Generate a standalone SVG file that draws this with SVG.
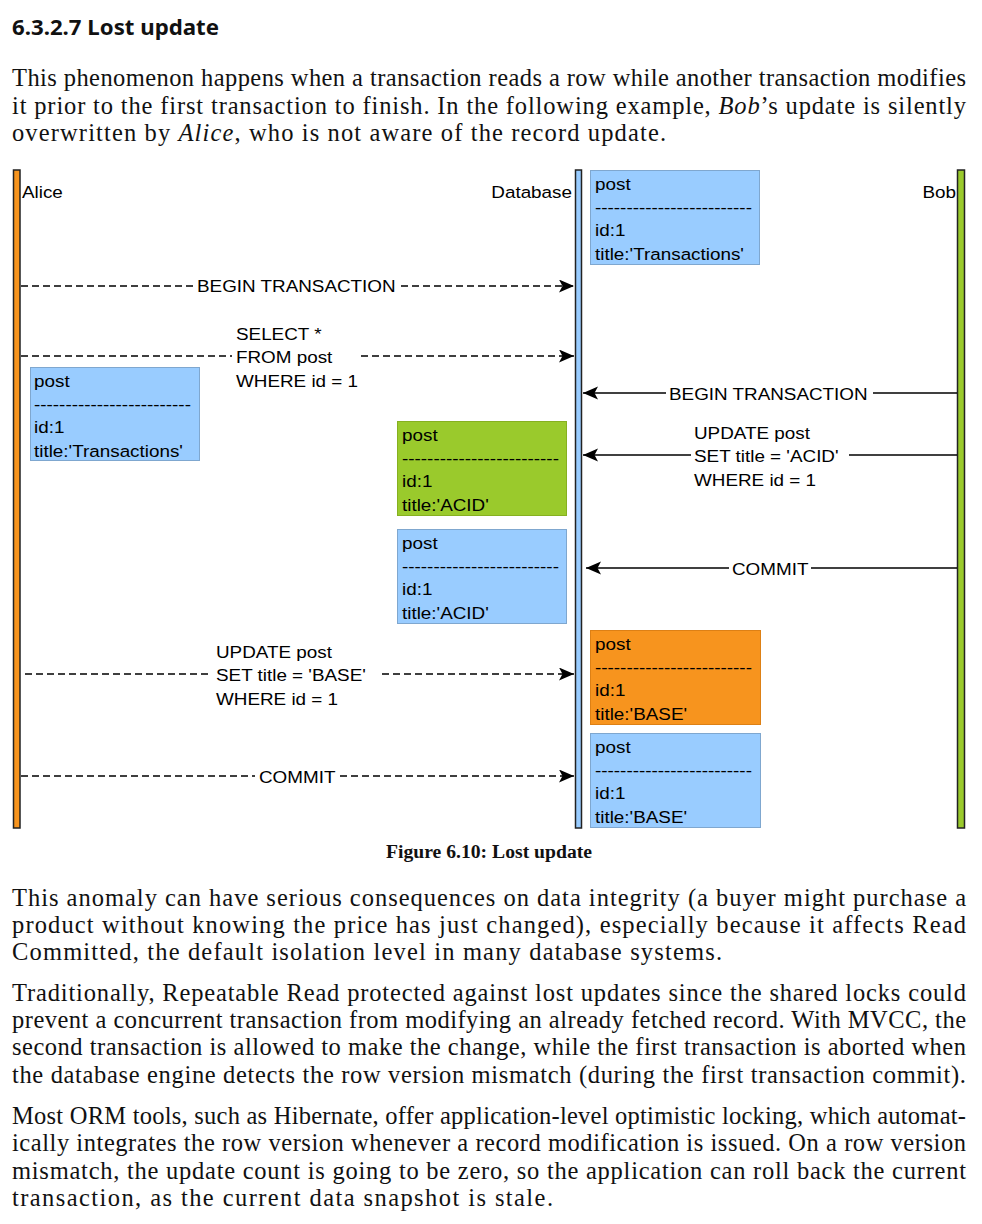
<svg xmlns="http://www.w3.org/2000/svg" width="982" height="1224" viewBox="0 0 982 1224">
<style>
.body{font-family:"Liberation Serif","Times New Roman",serif;font-size:24.5px;fill:#111}
.head{font-family:"Noto Sans","Open Sans",sans-serif;font-size:21px;font-weight:bold;fill:#111}
.cap{font-family:"Liberation Serif","Times New Roman",serif;font-size:18px;font-weight:bold;fill:#111}
.d{font-family:"Liberation Sans",Arial,sans-serif;font-size:17px;fill:#000}
.blue{fill:#99CCFF;stroke:#7FA7CF;stroke-width:1}
.green{fill:#9ACA2C;stroke:#86B020;stroke-width:1}
.orange{fill:#F7941E;stroke:#DD8015;stroke-width:1}
.dash{stroke:#000;stroke-width:1.3;fill:none;stroke-dasharray:7,4}
.solid{stroke:#000;stroke-width:1.3;fill:none}
.life{stroke:#222;stroke-width:1.5}
</style>
<defs>
<marker id="arr" markerUnits="userSpaceOnUse" markerWidth="17" markerHeight="15" refX="15" refY="6.5" orient="auto">
<path d="M0,0 L15,6.5 L0,13 L3.5,6.5 Z" fill="#000"/>
</marker>
</defs>

<text class="head" x="12" y="35" textLength="207" lengthAdjust="spacingAndGlyphs">6.3.2.7 Lost update</text>

<text class="body" x="12" y="86" textLength="954">This phenomenon happens when a transaction reads a row while another transaction modifies</text>
<text class="body" x="12" y="113.5" textLength="954">it prior to the first transaction to finish. In the following example, <tspan font-style="italic">Bob</tspan>’s update is silently</text>
<text class="body" x="12" y="141" textLength="654">overwritten by <tspan font-style="italic">Alice</tspan>, who is not aware of the record update.</text>

<g id="alice">
<rect class="life" x="13.5" y="170" width="6.5" height="658" fill="#F7941E"/>
<text class="d" transform="translate(22,198) scale(1.11,1)">Alice</text>
</g>
<g id="database">
<rect class="life" x="575.5" y="170" width="6" height="658" fill="#99CCFF"/>
<text class="d" text-anchor="end" transform="translate(572,198) scale(1.11,1)">Database</text>
</g>
<g id="bob">
<rect class="life" x="957.5" y="170" width="7" height="658" fill="#9ACA2C"/>
<text class="d" text-anchor="end" transform="translate(956,198) scale(1.11,1)">Bob</text>
</g>

<g id="box1">
<rect class="blue" x="590.5" y="170.5" width="169" height="94"/>
<text class="d" transform="translate(595,189.5) scale(1.11,1)">post</text>
<text class="d" transform="translate(595,212.8) scale(1.11,1)">-------------------------</text>
<text class="d" transform="translate(595,236.1) scale(1.11,1)">id:1</text>
<text class="d" transform="translate(595,259.5) scale(1.11,1)">title:'Transactions'</text>
</g>
<g id="box2">
<rect class="blue" x="30.5" y="367.5" width="169" height="93"/>
<text class="d" transform="translate(34,386.5) scale(1.11,1)">post</text>
<text class="d" transform="translate(34,409.8) scale(1.11,1)">-------------------------</text>
<text class="d" transform="translate(34,433.1) scale(1.11,1)">id:1</text>
<text class="d" transform="translate(34,456.5) scale(1.11,1)">title:'Transactions'</text>
</g>
<g id="box3">
<rect class="green" x="397.5" y="421.5" width="169" height="94"/>
<text class="d" transform="translate(402,440.5) scale(1.11,1)">post</text>
<text class="d" transform="translate(402,463.8) scale(1.11,1)">-------------------------</text>
<text class="d" transform="translate(402,487.1) scale(1.11,1)">id:1</text>
<text class="d" transform="translate(402,510.5) scale(1.11,1)">title:'ACID'</text>
</g>
<g id="box4">
<rect class="blue" x="397.5" y="529.5" width="169" height="94"/>
<text class="d" transform="translate(402,548.5) scale(1.11,1)">post</text>
<text class="d" transform="translate(402,571.8) scale(1.11,1)">-------------------------</text>
<text class="d" transform="translate(402,595.1) scale(1.11,1)">id:1</text>
<text class="d" transform="translate(402,618.5) scale(1.11,1)">title:'ACID'</text>
</g>
<g id="box5">
<rect class="orange" x="590.5" y="630.5" width="170" height="94"/>
<text class="d" transform="translate(595,649.5) scale(1.11,1)">post</text>
<text class="d" transform="translate(595,672.8) scale(1.11,1)">-------------------------</text>
<text class="d" transform="translate(595,696.1) scale(1.11,1)">id:1</text>
<text class="d" transform="translate(595,719.5) scale(1.11,1)">title:'BASE'</text>
</g>
<g id="box6">
<rect class="blue" x="590.5" y="733.5" width="170" height="94"/>
<text class="d" transform="translate(595,752.5) scale(1.11,1)">post</text>
<text class="d" transform="translate(595,775.8) scale(1.11,1)">-------------------------</text>
<text class="d" transform="translate(595,799.1) scale(1.11,1)">id:1</text>
<text class="d" transform="translate(595,822.5) scale(1.11,1)">title:'BASE'</text>
</g>

<g id="connectors">
<line class="dash" x1="21" y1="286" x2="194" y2="286"/>
<line class="dash" x1="401" y1="286" x2="574" y2="286" marker-end="url(#arr)"/>
<line class="dash" x1="21" y1="356" x2="232" y2="356"/>
<line class="dash" x1="361" y1="356" x2="574" y2="356" marker-end="url(#arr)"/>
<line class="solid" x1="957" y1="393" x2="873" y2="393"/>
<line class="solid" x1="666" y1="393" x2="583" y2="393" marker-end="url(#arr)"/>
<line class="solid" x1="957" y1="455" x2="849" y2="455"/>
<line class="solid" x1="691" y1="455" x2="583" y2="455" marker-end="url(#arr)"/>
<line class="solid" x1="957" y1="568" x2="811" y2="568"/>
<line class="solid" x1="729" y1="568" x2="586" y2="568" marker-end="url(#arr)"/>
<line class="dash" x1="25" y1="674" x2="212" y2="674"/>
<line class="dash" x1="382" y1="674" x2="574" y2="674" marker-end="url(#arr)"/>
<line class="dash" x1="21" y1="776" x2="255" y2="776"/>
<line class="dash" x1="340" y1="776" x2="574" y2="776" marker-end="url(#arr)"/>
<text class="d" transform="translate(197,292) scale(1.11,1)">BEGIN TRANSACTION</text>
<text class="d" transform="translate(236,340) scale(1.11,1)">SELECT *</text>
<text class="d" transform="translate(236,363) scale(1.11,1)">FROM post</text>
<text class="d" transform="translate(236,386.5) scale(1.11,1)">WHERE id = 1</text>
<text class="d" transform="translate(669,399.5) scale(1.11,1)">BEGIN TRANSACTION</text>
<text class="d" transform="translate(694,438.5) scale(1.11,1)">UPDATE post</text>
<text class="d" transform="translate(694,462) scale(1.11,1)">SET title = 'ACID'</text>
<text class="d" transform="translate(694,485.5) scale(1.11,1)">WHERE id = 1</text>
<text class="d" transform="translate(732,574.5) scale(1.11,1)">COMMIT</text>
<text class="d" transform="translate(216,657.5) scale(1.11,1)">UPDATE post</text>
<text class="d" transform="translate(216,681) scale(1.11,1)">SET title = 'BASE'</text>
<text class="d" transform="translate(216,704.5) scale(1.11,1)">WHERE id = 1</text>
<text class="d" transform="translate(259,782.5) scale(1.11,1)">COMMIT</text>
</g>

<text class="cap" x="386" y="858" textLength="206" lengthAdjust="spacingAndGlyphs">Figure 6.10: Lost update</text>

<text class="body" x="12" y="906" textLength="954">This anomaly can have serious consequences on data integrity (a buyer might purchase a</text>
<text class="body" x="12" y="933" textLength="954">product without knowing the price has just changed), especially because it affects Read</text>
<text class="body" x="12" y="960" textLength="710">Committed, the default isolation level in many database systems.</text>

<text class="body" x="12" y="1001" textLength="954">Traditionally, Repeatable Read protected against lost updates since the shared locks could</text>
<text class="body" x="12" y="1028" textLength="954">prevent a concurrent transaction from modifying an already fetched record. With MVCC, the</text>
<text class="body" x="12" y="1055" textLength="954">second transaction is allowed to make the change, while the first transaction is aborted when</text>
<text class="body" x="12" y="1083" textLength="954">the database engine detects the row version mismatch (during the first transaction commit).</text>

<text class="body" x="12" y="1124" textLength="954">Most ORM tools, such as Hibernate, offer application-level optimistic locking, which automat-</text>
<text class="body" x="12" y="1151" textLength="954">ically integrates the row version whenever a record modification is issued. On a row version</text>
<text class="body" x="12" y="1179" textLength="954">mismatch, the update count is going to be zero, so the application can roll back the current</text>
<text class="body" x="12" y="1206" textLength="541">transaction, as the current data snapshot is stale.</text>
</svg>
